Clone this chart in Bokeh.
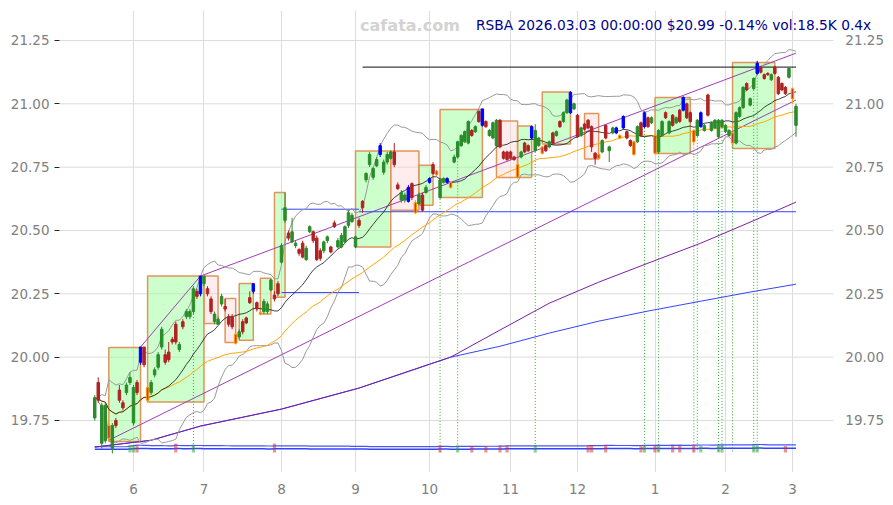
import numpy as np
import pandas as pd
from bokeh.plotting import figure
from bokeh.models import ColumnDataSource, FixedTicker, Range1d, Label, NumeralTickFormatter
from bokeh.core.properties import value
from bokeh.embed import file_html
from bokeh.resources import INLINE

# ---------------- data (trading-day index, 0 = 2 Jun 2025) ----------------
first_day = -11
opens = [19.76, 19.90, 19.66, 19.67, 19.73, 19.64, 19.75, 19.87, 19.82, 19.86,
         19.90, 19.74, 19.90, 19.98, 20.04, 19.88, 19.86, 19.93, 19.96, 20.04,
         20.01, 20.02, 20.07, 20.13, 20.03, 20.14, 20.16, 20.16, 20.18, 20.26,
         20.25, 20.29, 20.27, 20.23, 20.14, 20.13, 20.21, 20.20, 20.16, 20.16,
         20.09, 20.08, 20.14, 20.155, 20.235, 20.26, 20.215, 20.175, 20.18, 20.18,
         20.265, 20.245, 20.29, 20.375, 20.54, 20.49, 20.455, 20.44, 20.425, 20.45,
         20.385, 20.495, 20.495, 20.47, 20.42, 20.42, 20.46, 20.435, 20.53, 20.435,
         20.435, 20.455, 20.52, 20.535, 20.435, 20.54, 20.615, 20.70, 20.76, 20.71,
         20.755, 20.80, 20.73, 20.77, 20.785, 20.81, 20.68, 20.62, 20.62, 20.615,
         20.685, 20.61, 20.605, 20.58, 20.67, 20.69, 20.725, 20.735, 20.70, 20.69,
         20.69, 20.69, 20.77, 20.79, 20.835, 20.85, 20.845, 20.895, 20.89, 20.97,
         20.915, 20.93, 20.875, 20.865, 20.835, 20.935, 20.81, 20.81, 20.81, 20.79,
         20.76, 20.79, 20.845, 20.835, 20.865, 20.815, 20.835, 20.83, 20.835, 20.83,
         20.885, 20.875, 20.93, 20.93, 20.965, 20.965, 20.98, 20.955, 20.875, 20.92,
         20.935, 20.91, 20.805, 20.80, 20.81, 20.915, 20.815, 20.885, 20.885, 20.875,
         20.905, 20.89, 20.855, 20.85, 20.85, 20.925, 20.91, 20.945, 20.925, 20.875,
         20.81, 20.875, 20.965, 20.885, 20.955, 20.925, 20.975, 20.975, 21.00, 20.965,
         20.895, 20.875, 20.91, 20.895, 21.035, 20.895, 20.905, 20.87, 20.91, 20.89,
         20.875, 20.885, 20.845, 20.95, 20.985, 21.08, 20.995, 21.06, 21.12, 21.145,
         21.115, 21.12, 21.095, 21.145, 21.105, 21.08, 21.065, 21.105, 21.06, 20.915]
closes = [19.84, 19.83, 19.81, 19.81, 19.68, 19.73, 19.73, 19.83, 19.80, 19.89,
          19.92, 19.88, 19.86, 20.04, 19.97, 19.83, 19.90, 19.95, 20.01, 20.11,
          19.98, 19.99, 20.06, 20.06, 20.05, 20.12, 20.18, 20.18, 20.27, 20.24,
          20.32, 20.32, 20.25, 20.18, 20.17, 20.15, 20.24, 20.19, 20.13, 20.12,
          20.055, 20.10, 20.10, 20.135, 20.215, 20.29, 20.19, 20.17, 20.22, 20.21,
          20.305, 20.23, 20.25, 20.44, 20.59, 20.47, 20.495, 20.45, 20.41, 20.395,
          20.43, 20.515, 20.46, 20.385, 20.39, 20.455, 20.475, 20.415, 20.515, 20.46,
          20.48, 20.515, 20.57, 20.56, 20.475, 20.52, 20.59, 20.725, 20.80, 20.745,
          20.78, 20.835, 20.77, 20.80, 20.81, 20.76, 20.665, 20.65, 20.64, 20.67,
          20.63, 20.57, 20.64, 20.64, 20.65, 20.705, 20.76, 20.72, 20.63, 20.705,
          20.705, 20.67, 20.79, 20.85, 20.875, 20.89, 20.93, 20.875, 20.91, 20.93,
          20.98, 20.91, 20.895, 20.925, 20.935, 20.83, 20.785, 20.78, 20.785, 20.78,
          20.71, 20.81, 20.81, 20.815, 20.91, 20.895, 20.865, 20.805, 20.815, 20.85,
          20.845, 20.89, 20.91, 20.965, 21.015, 21.045, 21.00, 20.87, 20.905, 20.90,
          20.905, 20.83, 20.785, 20.785, 20.855, 20.865, 20.83, 20.905, 20.905, 20.865,
          20.95, 20.865, 20.835, 20.80, 20.91, 20.875, 20.965, 20.91, 20.945, 20.805,
          20.895, 20.93, 20.945, 20.93, 20.915, 20.945, 20.93, 21.025, 20.945, 20.93,
          20.85, 20.935, 20.965, 20.915, 20.955, 20.925, 20.935, 20.935, 20.935, 20.915,
          20.895, 20.845, 20.965, 20.985, 21.065, 21.055, 21.02, 21.10, 21.16, 21.125,
          21.10, 21.115, 21.115, 21.12, 21.04, 21.055, 21.04, 21.14, 21.02, 20.99]
highs = [19.85, 19.92, 19.82, 19.82, 19.74, 19.74, 19.76, 19.89, 19.83, 19.90,
         19.94, 19.89, 19.91, 20.04, 20.04, 19.89, 19.91, 19.96, 20.02, 20.12,
         20.03, 20.06, 20.08, 20.14, 20.06, 20.15, 20.19, 20.19, 20.28, 20.27,
         20.32, 20.32, 20.28, 20.24, 20.18, 20.16, 20.25, 20.23, 20.17, 20.17,
         20.10, 20.11, 20.15, 20.16, 20.26, 20.29, 20.22, 20.18, 20.23, 20.22,
         20.31, 20.26, 20.30, 20.45, 20.65, 20.50, 20.55, 20.46, 20.43, 20.46,
         20.44, 20.52, 20.50, 20.48, 20.43, 20.46, 20.48, 20.44, 20.54, 20.47,
         20.49, 20.52, 20.58, 20.57, 20.48, 20.55, 20.62, 20.73, 20.81, 20.75,
         20.79, 20.845, 20.78, 20.81, 20.815, 20.845, 20.69, 20.66, 20.65, 20.68,
         20.69, 20.62, 20.65, 20.65, 20.68, 20.71, 20.77, 20.74, 20.70, 20.71,
         20.71, 20.695, 20.80, 20.855, 20.88, 20.895, 20.935, 20.90, 20.915, 20.975,
         20.98, 20.935, 20.90, 20.93, 20.94, 20.94, 20.815, 20.815, 20.815, 20.795,
         20.765, 20.815, 20.85, 20.84, 20.915, 20.92, 20.87, 20.835, 20.84, 20.855,
         20.89, 20.895, 20.935, 20.97, 21.02, 21.05, 21.005, 20.96, 20.91, 20.925,
         20.94, 20.915, 20.81, 20.805, 20.86, 20.92, 20.835, 20.91, 20.91, 20.88,
         20.955, 20.895, 20.86, 20.855, 20.915, 20.93, 20.97, 20.95, 20.95, 20.88,
         20.90, 20.935, 20.97, 20.935, 20.96, 20.95, 20.98, 21.03, 21.005, 20.97,
         20.90, 20.94, 20.97, 20.92, 21.04, 20.93, 20.94, 20.94, 20.94, 20.92,
         20.90, 20.89, 20.97, 20.99, 21.07, 21.085, 21.025, 21.105, 21.17, 21.15,
         21.12, 21.125, 21.12, 21.15, 21.11, 21.085, 21.07, 21.145, 21.065, 21.00]
lows = [19.75, 19.82, 19.64, 19.66, 19.67, 19.62, 19.72, 19.82, 19.79, 19.85,
        19.89, 19.73, 19.85, 19.97, 19.96, 19.82, 19.85, 19.92, 19.95, 20.03,
        19.97, 19.98, 20.05, 20.05, 20.02, 20.11, 20.15, 20.15, 20.17, 20.23,
        20.24, 20.28, 20.24, 20.17, 20.13, 20.13, 20.20, 20.18, 20.12, 20.11,
        20.05, 20.07, 20.09, 20.13, 20.21, 20.25, 20.18, 20.165, 20.17, 20.17,
        20.26, 20.22, 20.24, 20.37, 20.53, 20.46, 20.45, 20.43, 20.40, 20.39,
        20.38, 20.49, 20.45, 20.38, 20.38, 20.41, 20.45, 20.41, 20.51, 20.43,
        20.43, 20.45, 20.51, 20.53, 20.43, 20.51, 20.57, 20.69, 20.75, 20.70,
        20.75, 20.79, 20.72, 20.76, 20.78, 20.75, 20.66, 20.61, 20.61, 20.61,
        20.62, 20.565, 20.60, 20.575, 20.645, 20.685, 20.72, 20.715, 20.625, 20.685,
        20.685, 20.665, 20.765, 20.785, 20.83, 20.845, 20.84, 20.87, 20.885, 20.925,
        20.91, 20.905, 20.87, 20.86, 20.83, 20.825, 20.78, 20.775, 20.78, 20.775,
        20.705, 20.785, 20.805, 20.81, 20.86, 20.81, 20.83, 20.80, 20.81, 20.825,
        20.84, 20.87, 20.905, 20.925, 20.96, 20.96, 20.975, 20.865, 20.87, 20.895,
        20.90, 20.81, 20.76, 20.78, 20.805, 20.86, 20.77, 20.88, 20.88, 20.86,
        20.90, 20.86, 20.83, 20.795, 20.845, 20.87, 20.905, 20.905, 20.92, 20.80,
        20.805, 20.87, 20.94, 20.88, 20.91, 20.92, 20.925, 20.97, 20.94, 20.925,
        20.84, 20.87, 20.905, 20.89, 20.95, 20.89, 20.90, 20.865, 20.905, 20.885,
        20.87, 20.84, 20.84, 20.945, 20.98, 21.05, 20.99, 21.055, 21.115, 21.12,
        21.095, 21.11, 21.09, 21.115, 21.035, 21.05, 21.035, 21.10, 21.00, 20.87]
# candle style: g = up, r = down, b = breakout up, o = flagged
kinds = list("grggogrrrg" "ggrbrogggg" "rrrrgrgggr" "bgrrgggrrr" "ogrrrbrogg"
             "grrggrggrr" "ggrrrggrrg" "gggggrrggg" "gbgggrrggb" "rogrgbrogg"
             "bogggggrgr" "brgggrrrrr" "ogrrbggorg" "rgrggbgrgr" "rrrogrggbo"
             "brrogrbrgo" "ggrgrgrbrr" "ogbgrggggg" "gogggrggbr" "rrgrrrrgog")
# volume in thousands (ordinary sessions near the average, heavier sessions marked)
volumes = [32] * 200
vol_heavy = {-1: 70, 0: 70, 1: 70, 12: 90, 17: 70, 40: 90, 87: 70, 92: 70, 96: 65,
             100: 65, 104: 70, 106: 70, 114: 70, 129: 70, 130: 75, 134: 75, 144: 70,
             145: 75, 148: 70, 149: 75, 153: 70, 155: 70, 159: 75, 161: 70, 166: 80,
             167: 75, 176: 75, 177: 75, 185: 65}

# pattern boxes (first day, last day, top, bottom, kind)
box_first = [-7, 4, 20, 26, 30, 36, 40, 63, 73, 81, 87, 103, 109, 116, 128, 148, 170]
box_last = [2, 20, 24, 29, 34, 39, 43, 73, 81, 85, 99, 109, 113, 124, 132, 158, 182]
box_top = [20.038, 20.32, 20.32, 20.232, 20.291, 20.311, 20.65, 20.814, 20.814, 20.758,
           20.978, 20.932, 20.912, 21.047, 20.962, 21.025, 21.163]
box_bottom = [19.667, 19.823, 20.133, 20.058, 20.067, 20.17, 20.236, 20.435, 20.58, 20.60,
              20.63, 20.709, 20.709, 20.841, 20.782, 20.804, 20.824]
box_kind = ["up", "up", "down", "down", "up", "up", "up", "up", "down", "up",
            "up", "down", "up", "up", "down", "up", "up"]

# horizontal levels (first day, last day, level, colour)
lvl_first = [65, 42, 64, 42]
lvl_last = [188, 64, 188, 64]
lvl_value = [21.145, 20.584, 20.574, 20.255]
lvl_color = ["#111111", "#3344ff", "#3344ff", "#3344ff"]

# channel lines
chan_up_days = [2, 19, 188]
chan_up_vals = [20.04, 20.32, 21.20]
chan_dn_days = [-7, 188]
chan_dn_vals = [19.672, 21.015]

# long moving averages
long_days = [-11, 5, 19, 42, 64, 84, 90, 104, 118, 132, 146, 161, 175, 188]
long_a = [19.645, 19.672, 19.728, 19.795, 19.878, 19.972, 20.0, 20.107, 20.213, 20.296,
          20.371, 20.45, 20.533, 20.612]
long_b = [19.645, 19.672, 19.728, 19.795, 19.878, 19.972, 20.0, 20.043, 20.095, 20.142,
          20.182, 20.221, 20.257, 20.288]

signal_days = [17, 87, 92, 114, 145, 149, 159, 160, 166, 167, 170, 176, 177]

month_days = [0, 20, 42, 63, 84, 107, 126, 148, 168, 187]
month_labels = ["6", "7", "8", "9", "10", "11", "12", "1", "2", "3"]
y_ticks = [19.75, 20.0, 20.25, 20.5, 20.75, 21.0, 21.25]

title_text = "RSBA 2026.03.03 00:00:00 $20.99 -0.14% vol:18.5K 0.4x"
watermark = "cafata.com"

# ---------------- build ----------------
n = len(closes)
days = list(range(first_day, first_day + n))
for d, v in vol_heavy.items():
    volumes[d - first_day] = v

df = pd.DataFrame(dict(day=days, open=opens, high=highs, low=lows, close=closes,
                       kind=kinds, vol=volumes))
df["top"] = df[["open", "close"]].max(axis=1)
df["bot"] = df[["open", "close"]].min(axis=1)
fill_map = {"g": "#2a8c2a", "r": "#b22222", "b": "#0000ff", "o": "#c0392b"}
line_map = {"g": "#2a8c2a", "r": "#b22222", "b": "#0000ff", "o": "#ff9900"}
df["fill"] = df["kind"].map(fill_map)
df["edge"] = df["kind"].map(line_map)
df["vcol"] = np.where(df["close"] >= df["open"], "#2ca02c", "#d62728")

cs = pd.Series(closes)
df["sma20"] = cs.rolling(20, min_periods=1).mean()
sd = cs.rolling(20, min_periods=2).std(ddof=0)
df["bbu"] = df["sma20"] + 2 * sd
df["bbl"] = df["sma20"] - 2 * sd
df["sma50"] = cs.rolling(50, min_periods=1).mean()
vs = pd.Series(volumes, dtype=float)
df["vma50"] = vs.rolling(50, min_periods=1).mean()
df["vhigh"] = 1.8 * df["vma50"]

src = ColumnDataSource(df)
heavy = ColumnDataSource(df[df["day"].isin(list(vol_heavy.keys()))])

# plotting area: price panel spans days -21.0 .. 198.6, the right strip holds the price scale
x_start, grid_end, x_end = -21.0, 198.6, 213.4
p = figure(width=885, height=500, x_range=Range1d(x_start, x_end),
           y_range=Range1d(19.5447, 21.3684), output_backend="svg",
           toolbar_location=None, min_border_left=59, min_border_right=0,
           min_border_top=10, min_border_bottom=28)
p.extra_y_ranges = {"vol": Range1d(-200, 4420)}
p.outline_line_color = None
p.background_fill_color = "white"

# grid
p.ygrid.grid_line_color = None
p.xgrid.ticker = FixedTicker(ticks=month_days)
p.xgrid.grid_line_color = "#dddddd"
p.xgrid.grid_line_width = 1
p.segment(x0=[x_start] * len(y_ticks), x1=[grid_end] * len(y_ticks), y0=y_ticks, y1=y_ticks,
          line_color="#dddddd", line_width=1)

# axes
p.yaxis.ticker = FixedTicker(ticks=y_ticks)
p.yaxis.formatter = NumeralTickFormatter(format="0.00")
p.xaxis.ticker = FixedTicker(ticks=month_days)
p.xaxis.major_label_overrides = {d: l for d, l in zip(month_days, month_labels)}
for ax in [p.xaxis[0], p.yaxis[0]]:
    ax.axis_line_color = None
    ax.minor_tick_line_color = None
    ax.major_label_text_color = "#808080"
    ax.major_label_text_font_size = "13.5px"
    ax.major_label_text_font = "DejaVu Sans"
p.yaxis[0].major_tick_line_color = "#222222"
p.yaxis[0].major_tick_out = 5
p.yaxis[0].major_tick_in = 0
p.yaxis[0].major_label_standoff = 5
p.xaxis[0].major_tick_line_color = None
p.xaxis[0].major_tick_out = 0
p.xaxis[0].major_tick_in = 0
p.xaxis[0].major_label_standoff = 11

# right-hand price scale
p.text(x=[202.0] * len(y_ticks), y=y_ticks, text=[f"{t:.2f}" for t in y_ticks],
       text_font=value("DejaVu Sans"), text_font_size="13.5px", text_color="#808080",
       text_baseline="middle", text_align="left")

# pattern boxes
bx = pd.DataFrame(dict(left=box_first, right=box_last, top=box_top, bottom=box_bottom, kind=box_kind))
bx["fill"] = np.where(bx["kind"] == "up", "#99ff99", "#ffcccc")
bx["alpha"] = np.where(bx["kind"] == "up", 0.5, 0.35)
p.quad(left="left", right="right", top="top", bottom="bottom", fill_color="fill",
       fill_alpha="alpha", line_color="#e0955a", line_width=1.5, source=ColumnDataSource(bx))

# signal verticals
sig = df[df["day"].isin(signal_days)]
p.segment(x0=sig["day"], y0=sig["low"], x1=sig["day"], y1=[19.625] * len(sig),
          line_color="#33aa33", line_width=1, line_dash="1 2")

# volume
p.line("day", "vma50", line_color="#3344ff", line_width=1.5, y_range_name="vol", source=src)
p.line("day", "vhigh", line_color="#4455ff", line_width=1.2, y_range_name="vol", source=src)
p.vbar(x="day", width=0.9, top="vol", bottom=0, fill_color="vcol", line_color=None,
       fill_alpha=0.5, y_range_name="vol", source=heavy)

# long averages
p.line(long_days, long_b, line_color="#3344ff", line_width=1)
p.line(long_days, long_a, line_color="#7a1fa2", line_width=1)

# channel
p.line(chan_up_days, chan_up_vals, line_color="#a23cb8", line_width=1)
p.line(chan_dn_days, chan_dn_vals, line_color="#a23cb8", line_width=1)

# levels
p.segment(x0=lvl_first, y0=lvl_value, x1=lvl_last, y1=lvl_value, line_color=lvl_color, line_width=1)

# indicators
p.line("day", "bbu", line_color="#999999", line_width=1, source=src)
p.line("day", "bbl", line_color="#999999", line_width=1, source=src)
p.line("day", "sma50", line_color="#ffa500", line_width=1, source=src)
p.line("day", "sma20", line_color="#111111", line_width=0.8, source=src)

# candles
p.segment(x0="day", y0="low", x1="day", y1="high", line_color="edge", line_width=1, source=src)
p.vbar(x="day", width=0.7, top="top", bottom="bot", fill_color="fill", line_color="edge",
       line_width=1, source=src)

# texts
p.add_layout(Label(x=64.3, y=21.311, text=watermark, text_font="DejaVu Sans",
                   text_font_style="bold", text_font_size="16px", text_color="#d3d3d3",
                   text_baseline="middle"))
p.add_layout(Label(x=97.2, y=21.311, text=title_text, text_font="DejaVu Sans",
                   text_font_size="13.75px", text_color="#00008b", text_baseline="middle"))

open("out.html", "w").write(file_html(p, INLINE))
